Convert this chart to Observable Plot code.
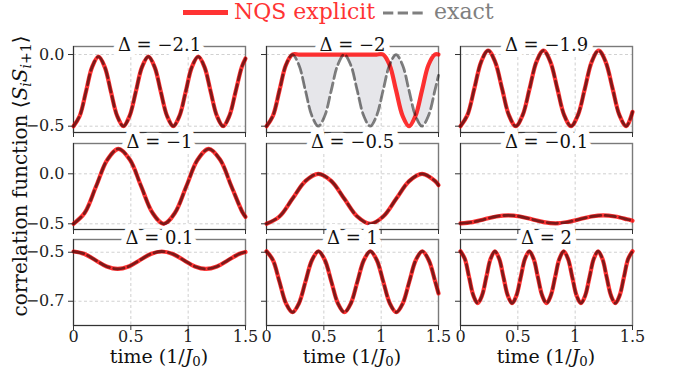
<!DOCTYPE html>
<html><head><meta charset="utf-8">
<script src="https://cdn.jsdelivr.net/npm/d3@7"></script>
<script src="https://cdn.jsdelivr.net/npm/@observablehq/plot@0.6"></script>
<style>
body{margin:0;background:#fff;}
#fig{position:relative;width:685px;height:369px;overflow:hidden;font-family:"DejaVu Serif",serif;color:#111;}
.panel{position:absolute;}
.xlab{position:absolute;width:220px;text-align:center;font-size:19px;line-height:18px;white-space:nowrap;}
.ylab{position:absolute;left:20px;top:176px;transform:translate(-50%,-50%) rotate(-90deg);white-space:nowrap;font-size:20px;line-height:22px;}
sub{font-size:70%;vertical-align:-0.25em;line-height:0;}
.leg{position:absolute;font-size:22px;line-height:24px;white-space:nowrap;}
</style></head><body><div id="fig"></div>
<script>
// ---- data ----
const deltas = [-2.1, -2, -1.9, -1, -0.5, -0.1, 0.1, 1, 2];
const xTicks = [0, 0.5, 1, 1.5];
const yTicksRow = [[0, -0.5], [0, -0.5], [-0.5, -0.7]];
const yDomainRow = [[-0.544, 0.056], [-0.557, 0.303], [-0.799, -0.448]];
const xDomain = [0, 1.5];
const seriesLabels = ["NQS explicit", "exact"];

const t_m21 = [0, 0.054, 0.109, 0.163, 0.218, 0.272, 0.326, 0.381, 0.435, 0.489, 0.544, 0.598, 0.653, 0.707, 0.761, 0.816, 0.870, 0.924, 0.979, 1.033, 1.088, 1.142, 1.196, 1.251, 1.305, 1.359, 1.414, 1.468, 1.5];
const exact_m21 = [-0.5, -0.429, -0.258, -0.086, -0.015, -0.086, -0.258, -0.429, -0.5, -0.429, -0.258, -0.086, -0.015, -0.086, -0.258, -0.429, -0.5, -0.429, -0.258, -0.086, -0.015, -0.086, -0.258, -0.429, -0.5, -0.429, -0.258, -0.086, -0.028];
const nqs_m21 = exact_m21;

const t_m2 = [0, 0.0565, 0.113, 0.1695, 0.226, 0.2825, 0.339, 0.3955, 0.452, 0.5085, 0.565, 0.6215, 0.678, 0.7345, 0.791, 0.8475, 0.904, 0.9605, 1.017, 1.0735, 1.13, 1.1865, 1.243, 1.2995, 1.356, 1.4125, 1.469, 1.5];
const exact_m2 = [-0.5, -0.427, -0.25, -0.073, 0, -0.073, -0.25, -0.427, -0.5, -0.427, -0.25, -0.073, 0, -0.073, -0.25, -0.427, -0.5, -0.427, -0.25, -0.073, 0, -0.073, -0.25, -0.427, -0.5, -0.427, -0.25, -0.145];
const nqs_m2 = [-0.5, -0.427, -0.25, -0.073, 0, 0, 0, 0, 0, 0, 0, 0, 0, 0, 0, 0, 0, 0, 0, -0.073, -0.25, -0.427, -0.5, -0.427, -0.25, -0.073, 0, 0];

const t_m19 = [0, 0.060, 0.121, 0.181, 0.241, 0.301, 0.362, 0.422, 0.482, 0.542, 0.603, 0.663, 0.723, 0.783, 0.844, 0.904, 0.964, 1.024, 1.085, 1.145, 1.205, 1.265, 1.326, 1.386, 1.446, 1.5];
const exact_m19 = [-0.5, -0.423, -0.236, -0.049, 0.028, -0.049, -0.236, -0.423, -0.5, -0.423, -0.236, -0.049, 0.028, -0.049, -0.236, -0.423, -0.5, -0.423, -0.236, -0.049, 0.028, -0.049, -0.236, -0.423, -0.5, -0.40];
const nqs_m19 = exact_m19;

const t_m1 = [0, 0.098, 0.197, 0.295, 0.393, 0.492, 0.590, 0.689, 0.787, 0.885, 0.984, 1.082, 1.180, 1.279, 1.377, 1.476, 1.5];
const exact_m1 = [-0.5, -0.39, -0.125, 0.14, 0.25, 0.14, -0.125, -0.39, -0.5, -0.39, -0.125, 0.14, 0.25, 0.14, -0.125, -0.39, -0.43];
const nqs_m1 = exact_m1;

const t_m05 = [0, 0.113, 0.226, 0.339, 0.452, 0.566, 0.679, 0.792, 0.905, 1.018, 1.131, 1.244, 1.357, 1.471, 1.5];
const exact_m05 = [-0.5, -0.427, -0.25, -0.073, 0, -0.073, -0.25, -0.427, -0.5, -0.427, -0.25, -0.073, 0, -0.073, -0.114];
const nqs_m05 = exact_m05;

const t_m01 = [0, 0.104, 0.2075, 0.311, 0.415, 0.519, 0.6225, 0.726, 0.83, 0.934, 1.0375, 1.141, 1.245, 1.349, 1.4525, 1.5];
const exact_m01 = [-0.495, -0.483, -0.455, -0.427, -0.415, -0.427, -0.455, -0.483, -0.495, -0.483, -0.455, -0.427, -0.415, -0.427, -0.455, -0.469];
const nqs_m01 = exact_m01;

const t_p01 = [0, 0.096, 0.1925, 0.289, 0.385, 0.481, 0.5775, 0.674, 0.77, 0.866, 0.9625, 1.059, 1.155, 1.251, 1.3475, 1.444, 1.5];
const exact_p01 = [-0.497, -0.507, -0.5325, -0.558, -0.568, -0.558, -0.5325, -0.507, -0.497, -0.507, -0.5325, -0.558, -0.568, -0.558, -0.5325, -0.507, -0.499];
const nqs_p01 = exact_p01;

const t_p1 = [0, 0.0566, 0.1132, 0.1698, 0.2264, 0.283, 0.3396, 0.3962, 0.4528, 0.5094, 0.566, 0.6226, 0.6792, 0.7358, 0.7924, 0.849, 0.9056, 0.9622, 1.0188, 1.0754, 1.132, 1.1886, 1.2452, 1.3018, 1.3584, 1.415, 1.4716, 1.5];
const exact_p1 = [-0.496, -0.5325, -0.6205, -0.7085, -0.745, -0.7085, -0.6205, -0.5325, -0.496, -0.5325, -0.6205, -0.7085, -0.745, -0.7085, -0.6205, -0.5325, -0.496, -0.5325, -0.6205, -0.7085, -0.745, -0.7085, -0.6205, -0.5325, -0.496, -0.5325, -0.6205, -0.668];
const nqs_p1 = exact_p1;

const t_p2 = [0, 0.0375, 0.075, 0.1125, 0.15, 0.1875, 0.225, 0.2625, 0.3, 0.3375, 0.375, 0.4125, 0.45, 0.4875, 0.525, 0.5625, 0.6, 0.6375, 0.675, 0.7125, 0.75, 0.7875, 0.825, 0.8625, 0.9, 0.9375, 0.975, 1.0125, 1.05, 1.0875, 1.125, 1.1625, 1.2, 1.2375, 1.275, 1.3125, 1.35, 1.3875, 1.425, 1.4625, 1.5];
const exact_p2 = [-0.496, -0.527, -0.602, -0.677, -0.708, -0.677, -0.602, -0.527, -0.496, -0.527, -0.602, -0.677, -0.708, -0.677, -0.602, -0.527, -0.496, -0.527, -0.602, -0.677, -0.708, -0.677, -0.602, -0.527, -0.496, -0.527, -0.602, -0.677, -0.708, -0.677, -0.602, -0.527, -0.496, -0.527, -0.602, -0.677, -0.708, -0.677, -0.602, -0.527, -0.496];
const nqs_p2 = exact_p2;

// ---- build ----
const panelsData = [
  [t_m21, exact_m21, nqs_m21], [t_m2, exact_m2, nqs_m2], [t_m19, exact_m19, nqs_m19],
  [t_m1, exact_m1, nqs_m1], [t_m05, exact_m05, nqs_m05], [t_m01, exact_m01, nqs_m01],
  [t_p01, exact_p01, nqs_p01], [t_p1, exact_p1, nqs_p1], [t_p2, exact_p2, nqs_p2]
];

const FONT = '"DejaVu Serif", serif';
const fig = document.getElementById("fig");
const colLeft = [73, 266, 460], rowTop = [46, 143, 239];
const PW = 172, PH = 86, ML = 60, MR = 6, MT = 20, MB = 40;
const RED = "#ff3333";
const fmtY = d3.format(".1f");
const fmtDelta = d => "Δ = " + (d < 0 ? "\u2212" + Math.abs(d) : String(d));

panelsData.forEach(([t, ex, nq], i) => {
  const r = Math.floor(i / 3), c = i % 3;
  const rows = t.map((tt, k) => ({t: tt, exact: ex[k], nqs: nq[k]}));
  const yDom = yDomainRow[r];
  const chart = Plot.plot({
    width: PW + ML + MR, height: PH + MT + MB,
    marginLeft: ML, marginRight: MR, marginTop: MT, marginBottom: MB,
    x: {domain: xDomain},
    y: {domain: yDom},
    style: {background: "transparent", fontFamily: FONT, fontSize: "16px", overflow: "visible", color: "#222"},
    marks: [
      Plot.gridX(xTicks, {stroke: "#c4c4c4", strokeOpacity: 1, strokeWidth: 0.8, strokeDasharray: "3,2.5"}),
      Plot.gridY(yTicksRow[r], {stroke: "#c4c4c4", strokeOpacity: 1, strokeWidth: 0.8, strokeDasharray: "3,2.5"}),
      Plot.frame({stroke: "#7a7a7a", strokeWidth: 1.4}),
      Plot.ruleX([xDomain[0]], {stroke: "#333", strokeWidth: 1}),
      Plot.ruleY([yDom[0]], {stroke: "#333", strokeWidth: 1}),
      Plot.text([fmtDelta(deltas[i])], {frameAnchor: "top", lineAnchor: "middle", dy: -1.5, fontSize: 18, fontFamily: FONT, fill: "#111", stroke: "white", strokeWidth: 12, strokeLinejoin: "round", paintOrder: "stroke"}),
      Plot.areaY(rows, {x: "t", y1: "exact", y2: "nqs", fill: "#e6e6ea", curve: "catmull-rom"}),
      Plot.line(rows, {x: "t", y: "nqs", stroke: "red", strokeOpacity: 0.8, strokeWidth: 4.2, curve: "catmull-rom"}),
      Plot.line(rows, {x: "t", y: "exact", stroke: "black", strokeOpacity: 0.5, strokeWidth: 2.8, strokeDasharray: "10.3,4.4", curve: "catmull-rom"}),
      Plot.axisY(yTicksRow[r], {tickSize: 5, tickPadding: 4, stroke: "#333", fontFamily: FONT, tickFormat: c === 0 ? fmtY : () => "", label: null}),
      Plot.axisX(xTicks, {tickSize: 5, tickPadding: 0, stroke: "#333", fontFamily: FONT, tickFormat: r === 2 ? (d => String(d)) : () => "", label: null})
    ]
  });
  const div = document.createElement("div");
  div.className = "panel";
  div.style.left = (colLeft[c] - ML) + "px";
  div.style.top = (rowTop[r] - MT) + "px";
  div.style.width = (PW + ML + MR) + "px";
  div.appendChild(chart);
  fig.appendChild(div);
  if (r === 2) {
    const xl = document.createElement("div");
    xl.className = "xlab";
    xl.style.left = (colLeft[c] + PW / 2 - 110) + "px";
    xl.style.top = "347px";
    xl.innerHTML = "time (1/<i>J</i><sub>0</sub>)";
    fig.appendChild(xl);
  }
});

// y label
const yl = document.createElement("div");
yl.className = "ylab";
yl.innerHTML = "correlation function \u27E8<i>S</i><sub><i>i</i></sub><i>S</i><sub><i>i</i>+1</sub>\u27E9";
fig.appendChild(yl);

// legend
const legRed = document.createElement("div");
legRed.style.cssText = "position:absolute;left:183px;top:10.4px;width:45px;height:4.2px;background:" + RED + ";";
fig.appendChild(legRed);
const l1 = document.createElement("div");
l1.className = "leg"; l1.style.left = "234px"; l1.style.top = "0px"; l1.style.color = RED;
l1.textContent = seriesLabels[0];
fig.appendChild(l1);
const svgNS = "http://www.w3.org/2000/svg";
const ls = document.createElementNS(svgNS, "svg");
ls.setAttribute("width", "46"); ls.setAttribute("height", "10");
ls.style.cssText = "position:absolute;left:382px;top:7.5px;";
const ln = document.createElementNS(svgNS, "line");
ln.setAttribute("x1", "1"); ln.setAttribute("x2", "44"); ln.setAttribute("y1", "5"); ln.setAttribute("y2", "5");
ln.setAttribute("stroke", "black"); ln.setAttribute("stroke-opacity", "0.5");
ln.setAttribute("stroke-width", "2.8"); ln.setAttribute("stroke-dasharray", "10.3,4.4");
ls.appendChild(ln);
fig.appendChild(ls);
const l2 = document.createElement("div");
l2.className = "leg"; l2.style.left = "434px"; l2.style.top = "0px"; l2.style.color = "#808080";
l2.textContent = seriesLabels[1];
fig.appendChild(l2);
</script>
</body></html>
